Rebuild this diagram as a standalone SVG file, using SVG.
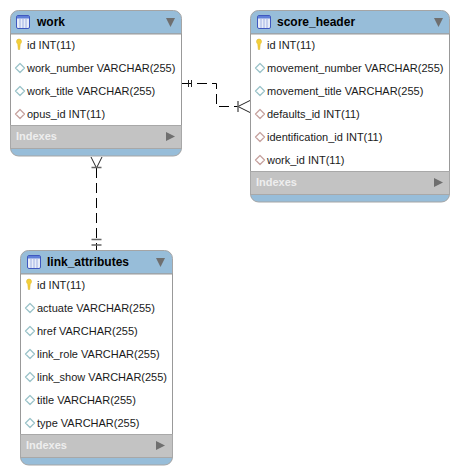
<svg xmlns="http://www.w3.org/2000/svg" width="459" height="475" viewBox="0 0 459 475">
<style>
text{font-family:"Liberation Sans",Arial,sans-serif;font-size:11px;fill:#1a1a1a}
.title{font-size:12px;font-weight:bold;fill:#000}
.idx{font-size:11px;font-weight:bold;fill:#eee}
.body{fill:#fff;stroke:#999;stroke-width:1}
.hdr{fill:#97bdd9;stroke:#a5a5a5;stroke-width:1}
.band{fill:#c3c3c3}
.sep{stroke:#a8a8a8;stroke-width:1;fill:none}
.tri{fill:#6f6f6f}
.conn{fill:none;stroke:#000;stroke-width:1;stroke-dasharray:10 5}
.mark{fill:none;stroke:#222;stroke-width:1}
.tick{fill:none;stroke:#666;stroke-width:1.5}
</style>
<defs>
<g id="ic"><rect x="0.500" y="0.500" width="13" height="13" rx="1.500" fill="#e8edf8" stroke="#3f58c0"/><rect x="1" y="1" width="12" height="2.500" fill="#5f7fd8"/><path d="M4 4V13M7 4V13M10 4V13" stroke="#9fb0e4" fill="none"/></g>
<g id="key"><path d="M-2.500 -3.500a2.500 2.500 0 0 1 5 0c0 1.500-1 2-1.300 3L.7 4.500h-1.400L-1.200 -.5C-1.500 -1.500-2.500 -2-2.500 -3.500z" fill="#f3cf3a" stroke="#d9b020" stroke-width=".5"/></g>
<path id="dia" d="M0 -4.500L4.500 0L0 4.500L-4.500 0Z" fill="#fff" stroke="#9cc4ca" stroke-width="1.300" stroke-linejoin="round"/>
<path id="fk" d="M0 -4.500L4.500 0L0 4.500L-4.500 0Z" fill="#fff" stroke="#c7a3a0" stroke-width="1.300" stroke-linejoin="round"/>
</defs>
<g id="connectors">
<path class="conn" d="M182 83.500H216.500V106.500H238"/>
<path class="conn" d="M96.500 168V250"/>
<path class="mark" d="M188.500 80V87M191.500 80V87M238 106.500L250 100.500M238 106.500L250 112.500"/>
<path class="tick" d="M238 101V112"/>
<path class="mark" d="M96.500 168L91 157M96.500 168L102 157"/>
<path class="tick" d="M91.500 167.500H101.500M91.500 239.500H101.500M91.500 245H101.500"/>
</g>
<g id="work">
<path class="hdr" d="M10.500 34V18.500a8 8 0 0 1 8-8H173.500a8 8 0 0 1 8 8V34Z"/>
<rect class="body" x="10.500" y="34" width="171" height="91.500"/>
<rect class="band" x="11" y="125.500" width="170" height="23"/>
<path class="hdr" d="M10.500 148.500H181.500V148a8 8 0 0 1-8 8H18.500a8 8 0 0 1-8-8Z"/>
<path class="sep" d="M10.500 125.500H181.500M10.500 148.500H181.500M10.500 125V149M181.500 125V149"/>
<use href="#ic" x="16" y="15"/>
<text class="title" x="37" y="26">work</text>
<path class="tri" d="M166 18H175L170.500 27Z"/>
<use href="#key" x="19" y="45"/>
<text x="27" y="49">id INT(11)</text>
<use href="#dia" x="20" y="68"/>
<text x="27" y="72">work_number VARCHAR(255)</text>
<use href="#dia" x="20" y="91"/>
<text x="27" y="95">work_title VARCHAR(255)</text>
<use href="#fk" x="20" y="114"/>
<text x="27" y="118">opus_id INT(11)</text>
<text class="idx" x="16" y="140">Indexes</text>
<path class="tri" d="M166 132L175 136.500L166 141Z"/>
</g>
<g id="score_header">
<path class="hdr" d="M250.500 34V18.500a8 8 0 0 1 8-8H441.500a8 8 0 0 1 8 8V34Z"/>
<rect class="body" x="250.500" y="34" width="199" height="137.500"/>
<rect class="band" x="251" y="171.500" width="198" height="23"/>
<path class="hdr" d="M250.500 194.500H449.500V194a8 8 0 0 1-8 8H258.500a8 8 0 0 1-8-8Z"/>
<path class="sep" d="M250.500 171.500H449.500M250.500 194.500H449.500M250.500 171V195M449.500 171V195"/>
<use href="#ic" x="257" y="15"/>
<text class="title" x="277" y="26">score_header</text>
<path class="tri" d="M434 18H443L438.500 27Z"/>
<use href="#key" x="259" y="45"/>
<text x="267" y="49">id INT(11)</text>
<use href="#dia" x="260" y="68"/>
<text x="267" y="72">movement_number VARCHAR(255)</text>
<use href="#dia" x="260" y="91"/>
<text x="267" y="95">movement_title VARCHAR(255)</text>
<use href="#fk" x="260" y="114"/>
<text x="267" y="118">defaults_id INT(11)</text>
<use href="#fk" x="260" y="137"/>
<text x="267" y="141">identification_id INT(11)</text>
<use href="#fk" x="260" y="160"/>
<text x="267" y="164">work_id INT(11)</text>
<text class="idx" x="256" y="186">Indexes</text>
<path class="tri" d="M434 178L443 182.500L434 187Z"/>
</g>
<g id="link_attributes">
<path class="hdr" d="M20.500 274V258.500a8 8 0 0 1 8-8H164.500a8 8 0 0 1 8 8V274Z"/>
<rect class="body" x="20.500" y="274" width="152" height="160.500"/>
<rect class="band" x="21" y="434.500" width="151" height="23"/>
<path class="hdr" d="M20.500 457.500H172.500V457a8 8 0 0 1-8 8H28.500a8 8 0 0 1-8-8Z"/>
<path class="sep" d="M20.500 434.500H172.500M20.500 457.500H172.500M20.500 434V458M172.500 434V458"/>
<use href="#ic" x="27" y="255"/>
<text class="title" x="47" y="266">link_attributes</text>
<path class="tri" d="M156 258H165L160.500 267Z"/>
<use href="#key" x="29" y="285"/>
<text x="37" y="289">id INT(11)</text>
<use href="#dia" x="30" y="308"/>
<text x="37" y="312">actuate VARCHAR(255)</text>
<use href="#dia" x="30" y="331"/>
<text x="37" y="335">href VARCHAR(255)</text>
<use href="#dia" x="30" y="354"/>
<text x="37" y="358">link_role VARCHAR(255)</text>
<use href="#dia" x="30" y="377"/>
<text x="37" y="381">link_show VARCHAR(255)</text>
<use href="#dia" x="30" y="400"/>
<text x="37" y="404">title VARCHAR(255)</text>
<use href="#dia" x="30" y="423"/>
<text x="37" y="427">type VARCHAR(255)</text>
<text class="idx" x="26" y="449">Indexes</text>
<path class="tri" d="M156 441L165 445.500L156 450Z"/>
</g>
</svg>
